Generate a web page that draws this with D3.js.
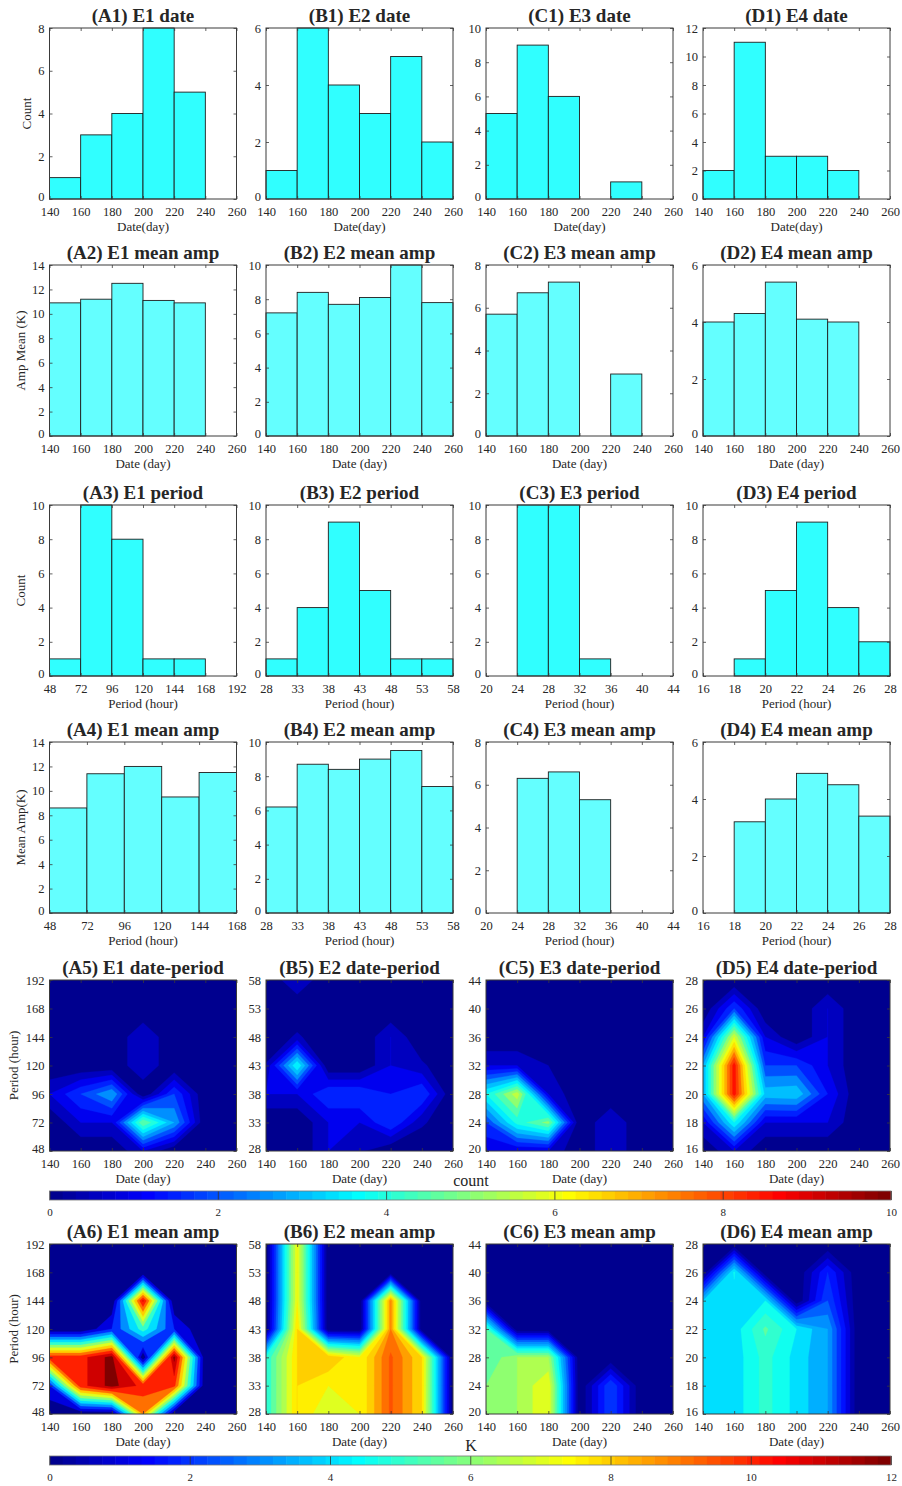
<!DOCTYPE html>
<html><head><meta charset="utf-8">
<script src="https://cdn.jsdelivr.net/npm/d3@7"></script>
<style>
body{margin:0;background:#fff}
text{font-family:"Liberation Serif","Times New Roman",serif;fill:#262626}
</style>
</head><body>
<svg id="c" width="902" height="1486"></svg>
<script>
// ---------------- DATA ----------------
const dateTicks = [140,160,180,200,220,240,260];
const periodTicksE1 = [48,72,96,120,144,168,192];
const periodTicksE2 = [28,33,38,43,48,53,58];
const periodTicksE3 = [20,24,28,32,36,40,44];
const periodTicksE4 = [16,18,20,22,24,26,28];
const periodTicksA4 = [48,72,96,120,144,168];

// histogram bins (lower edges)
const dateBins = [140,160,180,200,220,240];
const periodBinsE1 = [48,72,96,120,144];
const periodBinsE2 = [28,33,38,43,48,53];
const periodBinsE3 = [20,24,28,32,36,40];
const periodBinsE4 = [16,18,20,22,24,26];

// row 1: counts by date
const countDateE1 = [1,3,4,8,5,0];
const countDateE2 = [1,6,4,3,5,2];
const countDateE3 = [5,9,6,0,1,0];
const countDateE4 = [2,11,3,3,2,0];
// row 2: mean amp by date
const ampDateE1 = [10.9,11.2,12.5,11.1,10.9,0];
const ampDateE2 = [7.2,8.4,7.7,8.1,10.0,7.8];
const ampDateE3 = [5.7,6.7,7.2,0,2.9,0];
const ampDateE4 = [4.0,4.3,5.4,4.1,4.0,0];
// row 3: counts by period
const countPeriodE1 = [1,10,8,1,1];
const countPeriodE2 = [1,4,9,5,1,1];
const countPeriodE3 = [0,10,10,1,0,0];
const countPeriodE4 = [0,1,5,9,4,2];
// row 4: mean amp by period
const ampPeriodE1 = [8.6,11.4,12.0,9.5,11.5];
const ampPeriodE2 = [6.2,8.7,8.4,9.0,9.5,7.4];
const ampPeriodE3 = [0,6.3,6.6,5.3,0,0];
const ampPeriodE4 = [0,3.2,4.0,4.9,4.5,3.4];

// row 5: date-period counts (rows = period ascending, cols = dateTicks)
const gridCountE1 = [
 [0,0,0,1,0,0,0],
 [0,1,1,5,3,0,0],
 [1,2,3,0,2,0,0],
 [0,0,0,1,0,0,0],
 [0,0,0,1,0,0,0],
 [0,0,0,0,0,0,0],
 [0,0,0,0,0,0,0]];
const gridCountE2 = [
 [0,0,1,0.6,0,0,0],
 [0,0,1,1,2,0.6,0],
 [1,1,2,2,1.5,2,0],
 [0.55,4,0,0,1,0.6,0],
 [0,0.6,0,0,1,0,0],
 [0,0,0,0,0,0,0],
 [0,1,0,0,0,0,0]];
const gridCountE3 = [
 [1,1,1,0,1,0,0],
 [2,4.2,5.2,0,1,0,0],
 [4,5.8,1,0,0,0,0],
 [1,1,0.5,0,0,0,0],
 [0,0,0,0,0,0,0],
 [0,0,0,0,0,0,0],
 [0,0,0,0,0,0,0]];
const gridCountE4 = [
 [0,1,0,0,0,0,0],
 [1,4,1,1,1,0,0],
 [3,8.8,3.3,3.4,1.5,0,0],
 [3,8.8,2,2,1,0,0],
 [1,6,1,0,1,0,0],
 [0,2,0,0,1,0,0],
 [0,0,0,0,0,0,0]];
// row 6: date-period mean amplitude (K)
const gridAmpE1 = [
 [0,0,0,9,0,0,0],
 [2,10.6,12.4,10.6,10.3,0,0],
 [10.6,10.6,12.4,0,12.3,0,0],
 [0,0,2,5.5,2,0,0],
 [0,0,0,11.2,0,0,0],
 [0,0,0,0,0,0,0],
 [0,0,0,0,0,0,0]];
const gridAmpE2 = [
 [5,8,7,7.5,9.6,8,0],
 [5,8,7.5,7.5,9.6,8,0],
 [5,8,8.5,7.5,9.6,8,0],
 [0,8,0,0,9,0,0],
 [0,7.5,0,0,9,0,0],
 [0,7.5,0,0,0,0,0],
 [0,7.5,0,0,0,0,0]];
const gridAmpE3 = [
 [6,6.5,7.5,0,2.5,0,0],
 [6,6.5,7.5,0,2.5,0,0],
 [5.5,6.5,6.5,0,0,0,0],
 [5.5,0,0,0,0,0,0],
 [0,0,0,0,0,0,0],
 [0,0,0,0,0,0,0],
 [0,0,0,0,0,0,0]];
const gridAmpE4 = [
 [4,4.2,5.2,4.3,3.5,0,0],
 [4,4.2,5.2,4.3,3.5,0,0],
 [4,4.2,5.2,4.3,3.5,0,0],
 [4,4.2,5.6,4.5,3.5,0,0],
 [4,4.2,4.5,0,2.5,0,0],
 [0,4.6,0,0,2,0,0],
 [0,0,0,0,0,0,0]];

const countColorTicks = [0,2,4,6,8,10];
const ampColorTicks = [0,2,4,6,8,10,12];

// ---------------- LAYOUT ----------------
const W = 187, H = 171;
const colLeft = [49.5, 266, 486, 703];
const rowTop = [28, 265, 505, 742, 980, 1244];
const AX = '#3a3a3a';
const FILL1 = '#30ffff', FILL2 = '#64ffff';
const svg = d3.select('#c');

// MATLAB jet(64)
const jet64 = (function(m){
  const n = Math.ceil(m/4); const u=[];
  for(let i=1;i<=n;i++)u.push(i/n);
  for(let i=1;i<n;i++)u.push(1);
  for(let i=n;i>=1;i--)u.push(i/n);
  const off = Math.ceil(n/2) - (m%4===1?1:0);
  const J = Array.from({length:m},()=>[0,0,0]);
  const g=[],r=[],b=[];
  for(let k=1;k<=u.length;k++){const gg=off+k; g.push(gg); r.push(gg+n); b.push(gg-n);}
  const gv=g.filter(v=>v<=m), rv=r.filter(v=>v<=m), bv=b.filter(v=>v>=1);
  rv.forEach((row,i)=>J[row-1][0]=u[i]);
  gv.forEach((row,i)=>J[row-1][1]=u[i]);
  bv.forEach((row,i)=>J[row-1][2]=u[u.length-bv.length+i]);
  return J.map(c=>d3.rgb(c[0]*255,c[1]*255,c[2]*255).formatHex());
})(64);
function cmap(v,cmax){let i=Math.floor(v/cmax*64);i=Math.max(0,Math.min(63,i));return jet64[i];}

function axes(g, xs, ys, xTicks, yTicks, left, top, h) {
  const fmt = d => d;
  const b = g.append('g').attr('transform',`translate(0,${top+h})`)
    .call(d3.axisBottom(xs).tickValues(xTicks).tickFormat(fmt).tickSizeInner(-3).tickSizeOuter(0).tickPadding(8));
  const t = g.append('g').attr('transform',`translate(0,${top})`)
    .call(d3.axisTop(xs).tickValues(xTicks).tickFormat('').tickSizeInner(-3).tickSizeOuter(0));
  const l = g.append('g').attr('transform',`translate(${left},0)`)
    .call(d3.axisLeft(ys).tickValues(yTicks).tickFormat(fmt).tickSizeInner(-3).tickSizeOuter(0).tickPadding(5));
  const r = g.append('g').attr('transform',`translate(${left+W},0)`)
    .call(d3.axisRight(ys).tickValues(yTicks).tickFormat('').tickSizeInner(-3).tickSizeOuter(0));
  [b,t,l,r].forEach(a=>{
    a.attr('font-family',null).attr('font-size',null);
    a.select('.domain').remove();
    a.selectAll('line').attr('stroke',AX).attr('stroke-width',0.8);
    a.selectAll('text').attr('fill','#262626').style('font-size','12.5px');
  });
  // lift the lowest y label slightly so it does not collide with the first x label
  l.selectAll('.tick').filter((d,i)=>i===0).select('text').attr('dy','0.1em');
  g.append('rect').attr('x',left).attr('y',top).attr('width',W).attr('height',h)
    .attr('fill','none').attr('stroke',AX).attr('stroke-width',1);
}

function labels(g, left, top, h, title, xlabel, ylabel, yTickW) {
  g.append('text').attr('x',left+W/2).attr('y',top-6.5).attr('text-anchor','middle')
    .style('font-size','19px').style('font-weight','bold').attr('fill','#000').text(title);
  g.append('text').attr('x',left+W/2).attr('y',top+h+32).attr('text-anchor','middle')
    .style('font-size','13px').text(xlabel);
  if (ylabel) {
    const x = left - 5 - yTickW - 12;
    g.append('text').attr('transform',`translate(${x},${top+h/2}) rotate(-90)`)
      .attr('text-anchor','middle').attr('dy','0.35em').style('font-size','13px').text(ylabel);
  }
}

function barPanel(p) {
  const left = colLeft[p.col], top = rowTop[p.row], h = H;
  const g = svg.append('g');
  const xs = d3.scaleLinear().domain(p.xDomain).range([left,left+W]);
  const ys = d3.scaleLinear().domain([0,p.yMax]).range([top+h,top]);
  const data = p.bins.map((b,i)=>({x0:b,x1:b+p.width,v:p.vals[i]})).filter(d=>d.v>0);
  g.selectAll('rect.bar').data(data).join('rect').attr('class','bar')
    .attr('x',d=>xs(d.x0)).attr('width',d=>xs(d.x1)-xs(d.x0))
    .attr('y',d=>ys(d.v)).attr('height',d=>ys(0)-ys(d.v))
    .attr('fill',p.fill).attr('stroke','#1e1e1e').attr('stroke-width',0.9);
  const yTicks = d3.range(0,p.yMax+0.001,2);
  axes(g, xs, ys, p.xTicks, yTicks, left, top, h);
  labels(g, left, top, h, p.title, p.xlabel, p.ylabel, String(p.yMax).length*6.25);
}

let clipN = 0;
function contourPanel(p) {
  const left = colLeft[p.col], top = rowTop[p.row], h = p.row===5 ? 170 : H;
  const g = svg.append('g');
  const xs = d3.scaleLinear().domain([dateTicks[0],dateTicks[dateTicks.length-1]]).range([left,left+W]);
  const ys = d3.scaleLinear().domain([p.yTicks[0],p.yTicks[p.yTicks.length-1]]).range([top+h,top]);
  const id = 'clip'+(clipN++);
  svg.append('clipPath').attr('id',id).append('rect').attr('x',left).attr('y',top).attr('width',W).attr('height',h);
  const cg = g.append('g').attr('clip-path',`url(#${id})`);
  cg.append('rect').attr('x',left).attr('y',top).attr('width',W).attr('height',h).attr('fill',cmap(0,p.cmax));
  const grid = p.grid, nx = grid[0].length, ny = grid.length;
  const values = grid.flat();
  const levels = d3.range(p.step, d3.max(values)+1e-9, p.step);
  const cs = d3.contours().size([nx,ny]).thresholds(levels)(values);
  const xv = dateTicks, yv = p.yTicks;
  const dx = xv[1]-xv[0], dy = yv[1]-yv[0];
  const proj = d3.geoTransform({point(x,y){ this.stream.point(xs(xv[0]+(x-0.5)*dx), ys(yv[0]+(y-0.5)*dy)); }});
  const path = d3.geoPath(proj);
  cg.selectAll('path').data(cs).join('path').attr('d',path)
    .attr('fill',d=>cmap(d.value,p.cmax)).attr('stroke',d=>cmap(d.value,p.cmax)).attr('stroke-width',0.3);
  axes(g, xs, ys, dateTicks, p.yTicks, left, top, h);
  labels(g, left, top, h, p.title, 'Date (day)', p.ylabel, String(p.yTicks[p.yTicks.length-1]).length*6.25);
}

// ---------- row 1-4 bar panels ----------
const barPanels = [
 {row:0,col:0,title:'(A1) E1 date',bins:dateBins,width:20,vals:countDateE1,xDomain:[140,260],xTicks:dateTicks,yMax:8,fill:FILL1,xlabel:'Date(day)',ylabel:'Count'},
 {row:0,col:1,title:'(B1) E2 date',bins:dateBins,width:20,vals:countDateE2,xDomain:[140,260],xTicks:dateTicks,yMax:6,fill:FILL1,xlabel:'Date(day)'},
 {row:0,col:2,title:'(C1) E3 date',bins:dateBins,width:20,vals:countDateE3,xDomain:[140,260],xTicks:dateTicks,yMax:10,fill:FILL1,xlabel:'Date(day)'},
 {row:0,col:3,title:'(D1) E4 date',bins:dateBins,width:20,vals:countDateE4,xDomain:[140,260],xTicks:dateTicks,yMax:12,fill:FILL1,xlabel:'Date(day)'},
 {row:1,col:0,title:'(A2) E1 mean amp',bins:dateBins,width:20,vals:ampDateE1,xDomain:[140,260],xTicks:dateTicks,yMax:14,fill:FILL2,xlabel:'Date (day)',ylabel:'Amp Mean (K)'},
 {row:1,col:1,title:'(B2) E2 mean amp',bins:dateBins,width:20,vals:ampDateE2,xDomain:[140,260],xTicks:dateTicks,yMax:10,fill:FILL2,xlabel:'Date (day)'},
 {row:1,col:2,title:'(C2) E3 mean amp',bins:dateBins,width:20,vals:ampDateE3,xDomain:[140,260],xTicks:dateTicks,yMax:8,fill:FILL2,xlabel:'Date (day)'},
 {row:1,col:3,title:'(D2) E4 mean amp',bins:dateBins,width:20,vals:ampDateE4,xDomain:[140,260],xTicks:dateTicks,yMax:6,fill:FILL2,xlabel:'Date (day)'},
 {row:2,col:0,title:'(A3) E1 period',bins:periodBinsE1,width:24,vals:countPeriodE1,xDomain:[48,192],xTicks:periodTicksE1,yMax:10,fill:FILL1,xlabel:'Period (hour)',ylabel:'Count'},
 {row:2,col:1,title:'(B3) E2 period',bins:periodBinsE2,width:5,vals:countPeriodE2,xDomain:[28,58],xTicks:periodTicksE2,yMax:10,fill:FILL1,xlabel:'Period (hour)'},
 {row:2,col:2,title:'(C3) E3 period',bins:periodBinsE3,width:4,vals:countPeriodE3,xDomain:[20,44],xTicks:periodTicksE3,yMax:10,fill:FILL1,xlabel:'Period (hour)'},
 {row:2,col:3,title:'(D3) E4 period',bins:periodBinsE4,width:2,vals:countPeriodE4,xDomain:[16,28],xTicks:periodTicksE4,yMax:10,fill:FILL1,xlabel:'Period (hour)'},
 {row:3,col:0,title:'(A4) E1 mean amp',bins:periodBinsE1,width:24,vals:ampPeriodE1,xDomain:[48,168],xTicks:periodTicksA4,yMax:14,fill:FILL2,xlabel:'Period (hour)',ylabel:'Mean Amp(K)'},
 {row:3,col:1,title:'(B4) E2 mean amp',bins:periodBinsE2,width:5,vals:ampPeriodE2,xDomain:[28,58],xTicks:periodTicksE2,yMax:10,fill:FILL2,xlabel:'Period (hour)'},
 {row:3,col:2,title:'(C4) E3 mean amp',bins:periodBinsE3,width:4,vals:ampPeriodE3,xDomain:[20,44],xTicks:periodTicksE3,yMax:8,fill:FILL2,xlabel:'Period (hour)'},
 {row:3,col:3,title:'(D4) E4 mean amp',bins:periodBinsE4,width:2,vals:ampPeriodE4,xDomain:[16,28],xTicks:periodTicksE4,yMax:6,fill:FILL2,xlabel:'Period (hour)'}
];
barPanels.forEach(barPanel);

const contourPanels = [
 {row:4,col:0,title:'(A5) E1 date-period',grid:gridCountE1,yTicks:periodTicksE1,cmax:10,step:0.5,ylabel:'Period (hour)'},
 {row:4,col:1,title:'(B5) E2 date-period',grid:gridCountE2,yTicks:periodTicksE2,cmax:10,step:0.5},
 {row:4,col:2,title:'(C5) E3 date-period',grid:gridCountE3,yTicks:periodTicksE3,cmax:10,step:0.5},
 {row:4,col:3,title:'(D5) E4 date-period',grid:gridCountE4,yTicks:periodTicksE4,cmax:10,step:0.5},
 {row:5,col:0,title:'(A6) E1 mean amp',grid:gridAmpE1,yTicks:periodTicksE1,cmax:12,step:1,ylabel:'Period (hour)'},
 {row:5,col:1,title:'(B6) E2 mean amp',grid:gridAmpE2,yTicks:periodTicksE2,cmax:12,step:0.5},
 {row:5,col:2,title:'(C6) E3 mean amp',grid:gridAmpE3,yTicks:periodTicksE3,cmax:12,step:0.5},
 {row:5,col:3,title:'(D6) E4 mean amp',grid:gridAmpE4,yTicks:periodTicksE4,cmax:12,step:0.5}
];
contourPanels.forEach(contourPanel);

// ---------- colorbars ----------
function colorbar(y, cmax, ticks, label, labelY) {
  const x0 = 49.5, x1 = 891, h = 9;
  const cs = d3.scaleLinear().domain([0,cmax]).range([x0,x1]);
  const g = svg.append('g');
  const idx = d3.range(64);
  g.selectAll('rect.cb').data(idx).join('rect').attr('class','cb')
    .attr('x',i=>cs(i*cmax/64)).attr('width',i=>cs((i+1)*cmax/64)-cs(i*cmax/64)+0.5)
    .attr('y',y).attr('height',h).attr('fill',i=>jet64[i]);
  const ax = g.append('g').attr('transform',`translate(0,${y+h})`)
    .call(d3.axisBottom(cs).tickValues(ticks).tickSizeInner(h).tickSizeOuter(0).tickPadding(3));
  ax.attr('font-family',null).attr('font-size',null);
  ax.select('.domain').remove();
  ax.selectAll('line').attr('y2',-h).attr('stroke','#333').attr('stroke-width',0.8);
  ax.selectAll('text').attr('y',8).attr('dy','0.71em').style('font-size','11px').attr('fill','#333');
  g.append('rect').attr('x',x0).attr('y',y).attr('width',x1-x0).attr('height',h)
    .attr('fill','none').attr('stroke','#777').attr('stroke-width',0.8);
  g.append('text').attr('x',471).attr('y',labelY).attr('text-anchor','middle')
    .style('font-size','16px').attr('fill','#000').text(label);
}
colorbar(1191, 10, countColorTicks, 'count', 1186);
colorbar(1456, 12, ampColorTicks, 'K', 1451);
</script>
</body></html>
